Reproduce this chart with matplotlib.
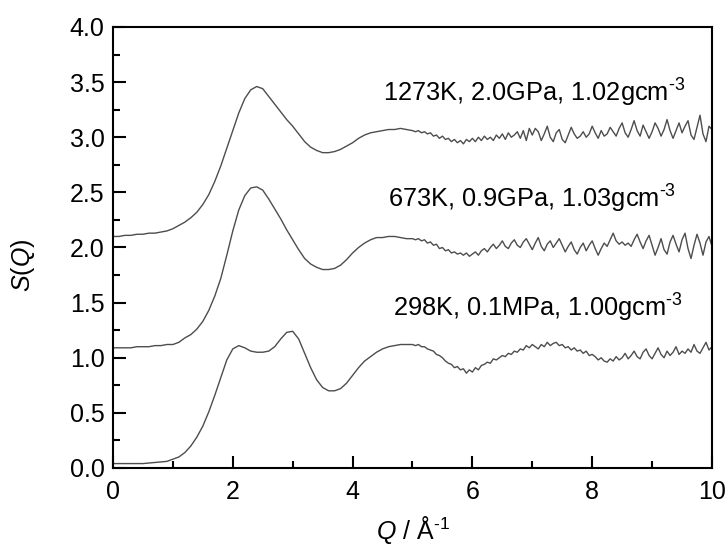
import numpy as np
import matplotlib
matplotlib.use("Agg")
import matplotlib.pyplot as plt

# ----------------------------
# Fonts
# ----------------------------
plt.rcParams['font.family'] = ['Liberation Sans', 'DejaVu Sans']
plt.rcParams['mathtext.fontset'] = 'custom'
plt.rcParams['mathtext.rm'] = 'Liberation Sans'
plt.rcParams['mathtext.it'] = 'Liberation Sans:italic'

# ----------------------------
# Daten
# ----------------------------
# Q grid: 0.0 .. 4.9 in 0.1 steps, then 5.00 .. 10.00 in 0.05 steps
Q = np.concatenate([np.round(np.arange(0, 50) * 0.1, 2),
                    np.round(5.0 + np.arange(0, 101) * 0.05, 2)])

s_298 = [
    0.04, 0.04, 0.04, 0.04, 0.04, 0.04, 0.045, 0.05, 0.055, 0.06,
    0.08, 0.10, 0.14, 0.20, 0.28, 0.38, 0.51, 0.66, 0.82, 0.98,
    1.08, 1.11, 1.09, 1.06, 1.05, 1.05, 1.06, 1.10, 1.17, 1.23,
    1.24, 1.17, 1.04, 0.91, 0.80, 0.73, 0.70, 0.70, 0.72, 0.77,
    0.84, 0.91, 0.97, 1.01, 1.05, 1.08, 1.10, 1.11, 1.12, 1.12,
    # 5.00 ..
    1.12, 1.11, 1.12, 1.10, 1.10, 1.08, 1.07, 1.06, 1.03, 1.02,
    1.00, 0.97, 0.95, 0.94, 0.91, 0.92, 0.89, 0.90, 0.86, 0.89,
    0.87, 0.91, 0.89, 0.93, 0.94, 0.96, 0.95, 0.99, 0.98, 1.00,
    1.02, 1.01, 1.04, 1.03, 1.06, 1.05, 1.08, 1.07, 1.11, 1.09,
    1.12, 1.10, 1.08, 1.12, 1.10, 1.14, 1.11, 1.13, 1.14, 1.11,
    1.12, 1.09, 1.10, 1.07, 1.09, 1.06, 1.07, 1.04, 1.06, 1.02,
    # 8.00 ..
    1.03, 1.01, 0.98, 1.00, 0.97, 0.96, 0.99, 0.97, 1.01, 0.98,
    1.00, 1.04, 0.99, 1.02, 1.06, 1.01, 0.99, 1.05, 1.08, 1.02,
    0.99, 1.04, 1.09, 1.03, 1.00, 1.06, 1.02, 1.05, 1.10, 1.03,
    1.06, 1.04, 1.08, 1.05, 1.12, 1.06, 1.04, 1.09, 1.14, 1.07,
    1.10,
]

s_673 = [
    1.09, 1.09, 1.09, 1.09, 1.10, 1.10, 1.10, 1.11, 1.11, 1.12,
    1.12, 1.14, 1.18, 1.21, 1.26, 1.33, 1.43, 1.56, 1.72, 1.93,
    2.15, 2.34, 2.47, 2.54, 2.55, 2.52, 2.44, 2.35, 2.26, 2.16,
    2.07, 1.98, 1.90, 1.85, 1.82, 1.80, 1.80, 1.81, 1.84, 1.89,
    1.95, 2.00, 2.04, 2.07, 2.09, 2.09, 2.10, 2.10, 2.09, 2.08,
    # 5.00 ..
    2.08, 2.07, 2.08, 2.06, 2.07, 2.04, 2.05, 2.02, 2.03, 1.99,
    2.00, 1.97, 1.98, 1.95, 1.96, 1.94, 1.95, 1.93, 1.95, 1.92,
    # 6.00 ..
    1.94, 1.96, 1.93, 1.97, 1.99, 1.96, 2.00, 2.03, 1.99, 2.02,
    2.06, 2.01, 1.99, 2.04, 2.07, 2.02, 2.00, 2.05, 2.08, 2.03,
    1.98, 2.04, 2.09, 2.01, 1.97, 2.03, 2.06, 2.00, 2.04, 2.08,
    2.02, 1.96, 2.01, 2.05, 1.98, 1.94, 2.00, 2.04, 1.97, 2.02,
    2.06, 1.99, 1.93, 1.99, 2.04, 2.01, 2.07, 2.13, 2.06, 2.03,
    2.05, 2.02, 2.04, 2.01, 2.07, 2.12, 2.05, 1.99, 2.06, 2.11,
    2.02, 1.93, 2.00, 2.08, 1.98, 1.94, 2.05, 2.11, 2.03, 1.96,
    2.07, 2.13, 1.99, 1.90, 2.02, 2.12, 2.04, 1.93, 2.05, 2.10,
    2.01,
]

s_1273 = [
    2.10, 2.10, 2.11, 2.11, 2.12, 2.12, 2.13, 2.13, 2.14, 2.15,
    2.17, 2.20, 2.23, 2.27, 2.32, 2.39, 2.48, 2.60, 2.74, 2.90,
    3.06, 3.22, 3.35, 3.43, 3.46, 3.44, 3.37, 3.30, 3.23, 3.16,
    3.10, 3.03, 2.96, 2.91, 2.88, 2.86, 2.86, 2.87, 2.89, 2.92,
    2.95, 2.99, 3.02, 3.04, 3.05, 3.06, 3.07, 3.07, 3.08, 3.07,
    # 5.00 ..
    3.06, 3.05, 3.06, 3.04, 3.05, 3.03, 3.04, 3.01, 3.02, 2.99,
    3.01, 2.98, 2.99, 2.96, 2.98, 2.95, 2.97, 2.94, 2.98, 2.96,
    2.99, 2.96, 3.00, 2.97, 3.01, 2.98, 3.00, 2.97, 3.02, 2.99,
    3.03, 2.98, 3.04, 3.00, 3.02, 3.05, 2.99, 3.06, 2.97, 3.08,
    # 7.00 ..
    3.02, 3.08, 3.05, 2.97, 3.03, 3.10, 3.00, 2.96, 3.04, 3.07,
    2.98, 2.95, 3.02, 3.09, 3.03, 2.99, 3.01, 3.05, 3.00, 3.03,
    3.10, 3.04, 2.99, 3.06, 3.01, 3.03, 3.09, 3.05, 3.01, 3.08,
    3.13, 3.04, 3.00, 3.07, 3.15, 3.06, 3.01, 3.11, 3.05, 2.99,
    3.05, 3.13, 3.08, 3.01, 3.07, 3.16, 3.06, 2.99, 3.06, 3.13,
    3.04, 3.10, 3.15, 3.02, 2.98, 3.09, 3.20, 3.03, 2.96, 3.10,
    3.07,
]

labels = [
    r'298K, 0.1MPa, 1.00gcm$^{\text{-3}}$',
    r'673K, 0.9GPa, 1.03gcm$^{\text{-3}}$',
    r'1273K, 2.0GPa, 1.02gcm$^{\text{-3}}$',
]
label_q = [4.67, 4.59, 4.51]
label_s = [1.37, 2.36, 3.32]

# ----------------------------
# Plot
# ----------------------------
fig = plt.figure(figsize=(7.28, 5.45), dpi=100)
ax = fig.add_axes([0.1552, 0.1413, 0.8228, 0.8092])

for s in (s_298, s_673, s_1273):
    ax.plot(Q, s, color="#4d4d4d", linewidth=1.0)

for txt, xq, ys in zip(labels, label_q, label_s):
    ax.text(xq, ys, txt, fontsize=18.3, ha="left", va="baseline")

ax.set_xlim(0, 10)
ax.set_ylim(0, 4.0)
ax.set_xticks(np.arange(0, 11, 2))
ax.set_xticks(np.arange(1, 10, 2), minor=True)
ax.set_yticks(np.arange(0, 4.01, 0.5))
ax.set_yticks(np.arange(0.25, 4.0, 0.5), minor=True)
ax.yaxis.set_major_formatter(matplotlib.ticker.FormatStrFormatter('%.1f'))

ax.tick_params(which="both", direction="in", top=False, right=False,
               width=1.5, labelsize=18)
ax.tick_params(which="major", length=9)
ax.tick_params(which="minor", length=5)
ax.tick_params(axis="y", pad=6)
ax.tick_params(axis="x", pad=9)
for sp in ax.spines.values():
    sp.set_linewidth(1.5)

ax.set_xlabel(r'$Q$ / Å$^{\text{-1}}$', fontsize=18, labelpad=7)
ax.set_ylabel(r'$S$($Q$)', fontsize=18)
ax.yaxis.set_label_coords(-0.127, 0.46)

fig.savefig("out.png", dpi=100)
